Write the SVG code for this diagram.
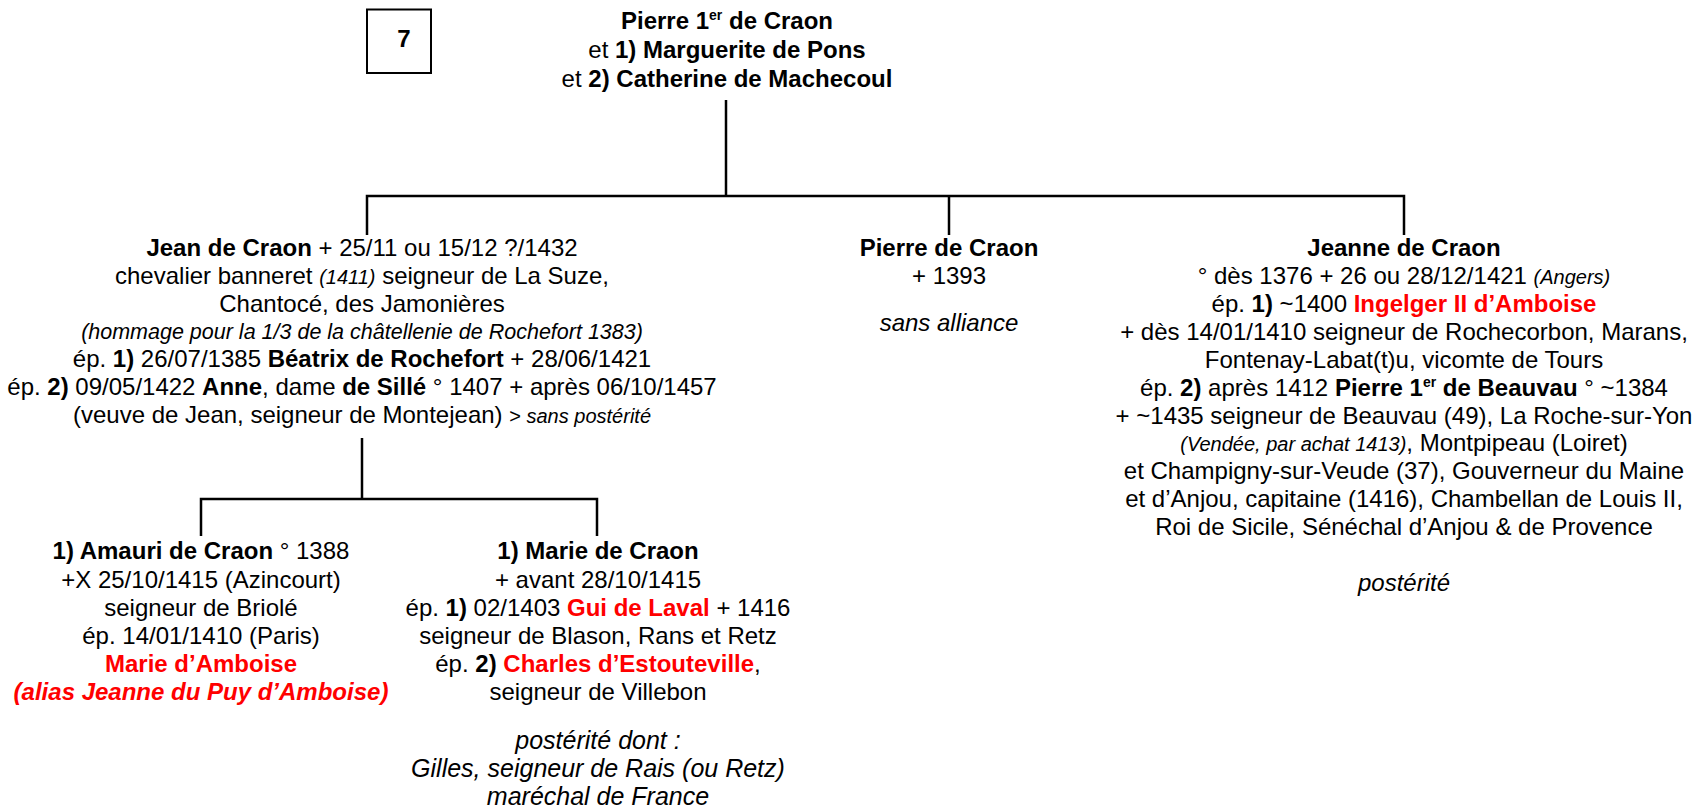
<svg xmlns="http://www.w3.org/2000/svg" width="1702" height="808" viewBox="0 0 1702 808">
<style>
text { font-family: "Liberation Sans", Arial, sans-serif; font-size: 24px; fill: #000; text-anchor: middle; }
.b { font-weight: bold; }
.i { font-style: italic; }
.s { font-size: 20px; }
.h { font-size: 21.5px; }
.l { font-size: 25px; }
.r { fill: #FF0000; }
.sup { font-size: 14px; }
.ln { stroke: #000; stroke-width: 2.5; fill: none; }
</style>
<rect x="0" y="0" width="1702" height="808" fill="#FFFFFF"/>
<g id="box7">
<rect x="367" y="9.5" width="64" height="63.5" fill="none" stroke="#000" stroke-width="2"/>
<text x="404" y="46.7" class="b" font-size="29">7</text>
</g>
<g id="connectors">
<path class="ln" d="M726 100 V196"/>
<path class="ln" d="M367 235 V196 H1404 V235"/>
<path class="ln" d="M949 196 V235"/>
<path class="ln" d="M362 438 V499"/>
<path class="ln" d="M201 536 V499 H597 V536"/>
</g>
<g id="n-pierre1">
<text x="727" y="29"><tspan class="b">Pierre 1</tspan><tspan class="b sup" dy="-9">er</tspan><tspan class="b" dy="9"> de Craon</tspan></text>
<text x="727" y="58">et <tspan class="b">1) Marguerite de Pons</tspan></text>
<text x="727" y="87">et <tspan class="b">2) Catherine de Machecoul</tspan></text>
</g>
<g id="n-jean">
<text x="362" y="256"><tspan class="b">Jean de Craon</tspan> + 25/11 ou 15/12 ?/1432</text>
<text x="362" y="284">chevalier banneret <tspan class="i s">(1411)</tspan> seigneur de La Suze,</text>
<text x="362" y="312">Chantocé, des Jamonières</text>
<text x="362" y="339" class="i h">(hommage pour la 1/3 de la châtellenie de Rochefort 1383)</text>
<text x="362" y="367">ép. <tspan class="b">1)</tspan> 26/07/1385 <tspan class="b">Béatrix de Rochefort</tspan> + 28/06/1421</text>
<text x="362" y="395">ép. <tspan class="b">2)</tspan> 09/05/1422 <tspan class="b">Anne</tspan>, dame <tspan class="b">de Sillé</tspan> ° 1407 + après 06/10/1457</text>
<text x="362" y="423">(veuve de Jean, seigneur de Montejean) <tspan class="s">&gt; </tspan><tspan class="i s">sans postérité</tspan></text>
</g>
<g id="n-pierre">
<text x="949" y="256" class="b">Pierre de Craon</text>
<text x="949" y="284">+ 1393</text>
<text x="949" y="331" class="i">sans alliance</text>
</g>
<g id="n-jeanne">
<text x="1404" y="256" class="b">Jeanne de Craon</text>
<text x="1404" y="284">° dès 1376 + 26 ou 28/12/1421 <tspan class="i s">(Angers)</tspan></text>
<text x="1404" y="312">ép. <tspan class="b">1)</tspan> ~1400 <tspan class="b r">Ingelger II d’Amboise</tspan></text>
<text x="1404" y="340">+ dès 14/01/1410 seigneur de Rochecorbon, Marans,</text>
<text x="1404" y="368">Fontenay-Labat(t)u, vicomte de Tours</text>
<text x="1404" y="396">ép. <tspan class="b">2)</tspan> après 1412 <tspan class="b">Pierre 1</tspan><tspan class="b sup" dy="-9">er</tspan><tspan class="b" dy="9"> de Beauvau</tspan> ° ~1384</text>
<text x="1404" y="424">+ ~1435 seigneur de Beauvau (49), La Roche-sur-Yon</text>
<text x="1404" y="451"><tspan class="i s">(Vendée, par achat 1413)</tspan>, Montpipeau (Loiret)</text>
<text x="1404" y="479">et Champigny-sur-Veude (37), Gouverneur du Maine</text>
<text x="1404" y="507">et d’Anjou, capitaine (1416), Chambellan de Louis II,</text>
<text x="1404" y="535">Roi de Sicile, Sénéchal d’Anjou &amp; de Provence</text>
<text x="1404" y="591" class="i">postérité</text>
</g>
<g id="n-amauri">
<text x="201" y="559"><tspan class="b">1) Amauri de Craon</tspan> ° 1388</text>
<text x="201" y="588">+X 25/10/1415 (Azincourt)</text>
<text x="201" y="616">seigneur de Briolé</text>
<text x="201" y="644">ép. 14/01/1410 (Paris)</text>
<text x="201" y="672" class="b r">Marie d’Amboise</text>
<text x="201" y="700" class="b i r">(alias Jeanne du Puy d’Amboise)</text>
</g>
<g id="n-marie">
<text x="598" y="559" class="b">1) Marie de Craon</text>
<text x="598" y="588">+ avant 28/10/1415</text>
<text x="598" y="616">ép. <tspan class="b">1)</tspan> 02/1403 <tspan class="b r">Gui de Laval</tspan> + 1416</text>
<text x="598" y="644">seigneur de Blason, Rans et Retz</text>
<text x="598" y="672">ép. <tspan class="b">2)</tspan> <tspan class="b r">Charles d’Estouteville</tspan>,</text>
<text x="598" y="700">seigneur de Villebon</text>
<text x="598" y="749" class="i l">postérité dont :</text>
<text x="598" y="777" class="i l">Gilles, seigneur de Rais (ou Retz)</text>
<text x="598" y="805" class="i l">maréchal de France</text>
</g>
</svg>
